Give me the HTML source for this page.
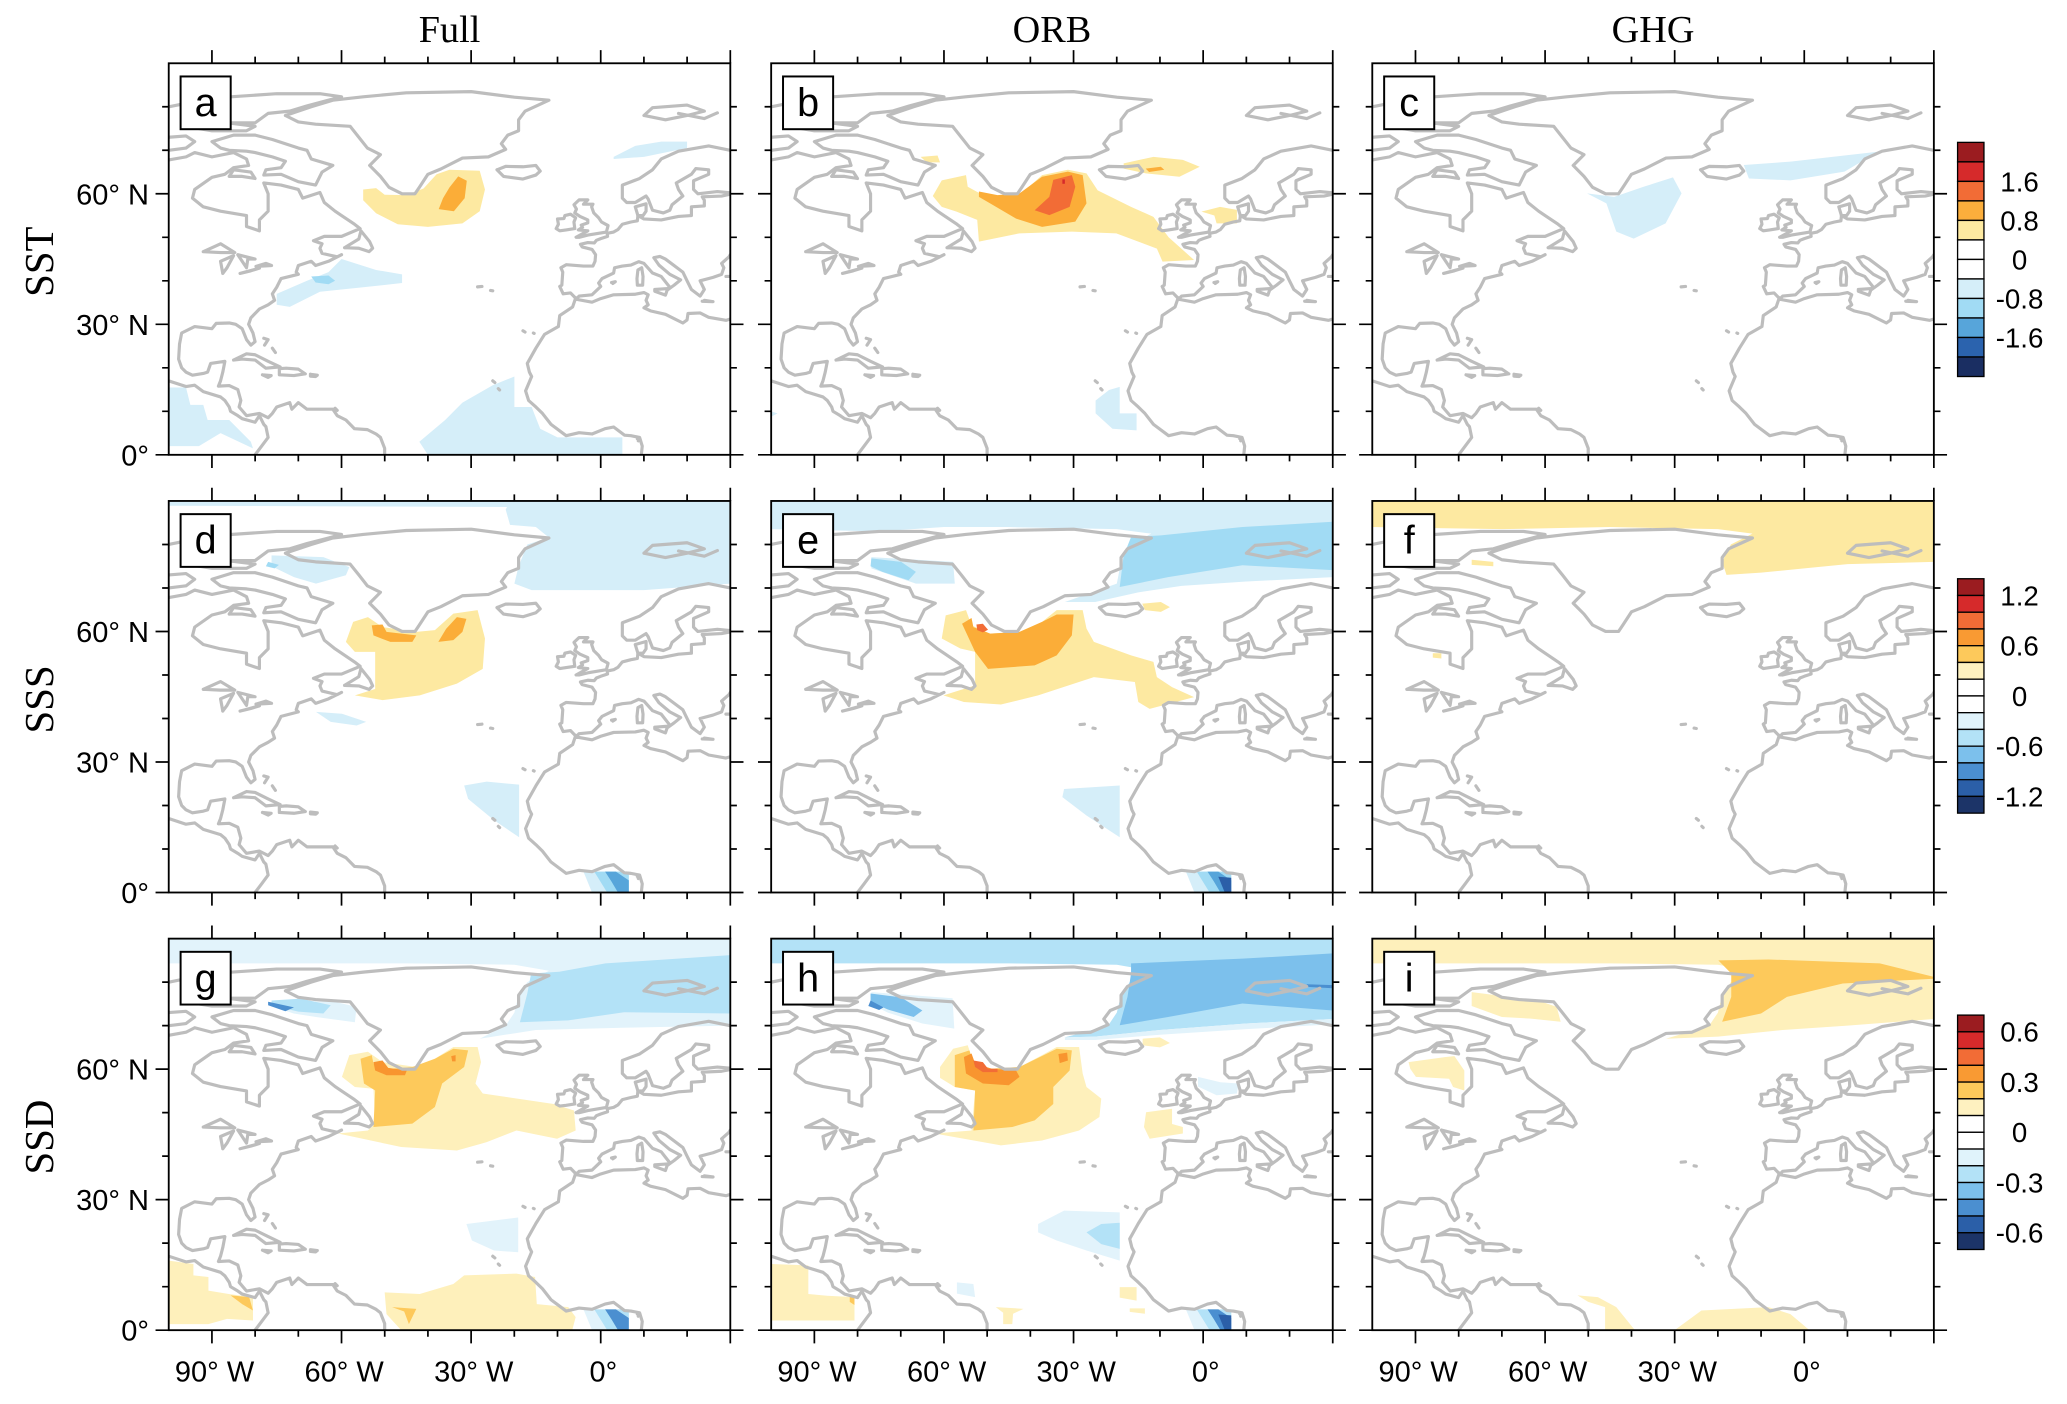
<!DOCTYPE html>
<html><head><meta charset="utf-8"><style>
html,body{margin:0;padding:0;background:#fff}
svg{display:block}
</style></head><body>
<svg id="fig" xmlns="http://www.w3.org/2000/svg" width="2067" height="1404" viewBox="0 0 1568 1065" preserveAspectRatio="none">
<rect x="0" y="0" width="1568" height="1065" fill="#fff"/>
<g id="clips"></g>
<g id="layer"></g>
</svg>
<script>
// ---------- data ----------
const colTitles = ['Full','ORB','GHG'];
const rowTitles = ['SST','SSS','SSD'];
const panelLetters = ['a','b','c','d','e','f','g','h','i'];
const latTicks = [0,30,60];
const latTickLabels = ['0°','30° N','60° N'];
const lonTicks = [-90,-60,-30,0];
const lonTickLabels = ['90° W','60° W','30° W','0°'];
const cb1Colors = ['#9b1c20','#d62a2b','#f26c36','#fbae3c','#feeaa1','#ffffff','#ffffff','#d5eef9','#a1dbf4','#57a5da','#2b63ae','#1a2e62'];
const cb1Labels = ['1.6','0.8','0','-0.8','-1.6'];
const cb2Colors = ['#9b1c20','#d62a2b','#f26c36','#f99a33','#fdc95b','#fef1c0','#ffffff','#ffffff','#e0f3fb','#b3e2f7','#7cc0ec','#4b8fd0','#2b5fa8','#1c3468'];
const cb2Labels = ['1.2','0.6','0','-0.6','-1.2'];
const cb3Labels = ['0.6','0.3','0','-0.3','-0.6'];

const C = {Y:'#fde9a1',O:'#fbad38',R:'#f26c36',D:'#d62a2b',LB:'#d5eef9',MB:'#a1dbf4',B:'#57a5da',NB:'#2b5fa8',
  gY:'#fef0bb',gO:'#fdc95b',gD:'#f8952f',gL:'#e2f3fb',gM:'#b3e2f7',gB:'#7cc0ec',gK:'#4b8fd0'};

const gulfLight=[[-4,4.8],[6.5,4.8],[6.5,0],[-2,0]];
const gulfMid=[[-1.5,4.8],[6.5,4.8],[6.5,0],[1.5,0]];
const gulfBlue=[[1,4.8],[3.5,4.8],[6.5,2.8],[6.5,0],[4,0],[2.5,2.5]];
const gulfNavy=[[3.5,3.6],[6.5,3.4],[6.5,0],[5,0]];

const fillsA = [
 ['Y',[[-55,61],[-52,61.3],[-50,59.8],[-45,59.7],[-41,61.2],[-38,64.5],[-35,65.5],[-28,65.3],[-26.8,61],[-28,56],[-32,53.2],[-40,52.4],[-47,53],[-52,55.5],[-55,58.5]]],
 ['O',[[-33,64],[-31,63],[-31.5,59],[-34,56],[-37.5,56.5],[-36.5,59],[-35,61.5]]],
 ['LB',[[-60,45],[-52,42.5],[-46,41.5],[-46,39.5],[-55,38.5],[-65,37.5],[-72,34],[-75,34.5],[-75,37],[-68,40],[-63,42]]],
 ['MB',[[-67,41],[-63,41.2],[-61.5,40],[-63,39.2],[-66,39.6]]],
 ['LB',[[-100,15.5],[-96,15.5],[-95,11.5],[-92,11.5],[-91,8],[-86,8],[-81,3],[-80.5,1.5],[-88,5],[-93,2],[-100,2]]],
 ['LB',[[-40,0],[-42,3],[-36,8],[-32,12],[-25,16],[-20,18],[-20,11],[-16,11],[-14,6],[-10,4],[-5,4],[5,4],[5,0]]],
 ['LB',[[3,68.5],[8,71],[14,72],[20,72],[20,70.5],[10,68.5],[3,68]]]
];
const fillsB = [
 ['Y',[[-62.6,59.5],[-60.5,63.1],[-54.9,64.3],[-54.5,61.6],[-50.2,59.3],[-42.5,59.7],[-37.3,64.3],[-31.3,65.5],[-27,64.7],[-24.4,60.8],[-16.7,57],[-11.5,54.7],[-8,50],[-2.1,44.8],[-9.4,44.4],[-10.7,47.4],[-20.1,50.9],[-30.4,51.3],[-42.5,50.9],[-51.9,49],[-52.3,54],[-57.1,55.9],[-60.5,57]]],
 ['O',[[-51.9,60.5],[-47.6,59.7],[-42.5,60.1],[-37.3,63.9],[-31.3,65.1],[-27.9,64.3],[-27,57.8],[-29.6,53.6],[-37.3,52.4],[-43.3,54.3],[-49.3,57.8],[-51.9,59.3]]],
 ['R',[[-34.7,63.2],[-30.4,64.3],[-29.6,61.6],[-30.9,57],[-35.6,55.1],[-39,56.2],[-35.6,59.3]]],
 ['D',[[-32.6,63.3],[-32,63.3],[-32,62.3],[-32.6,62.3]]],
 ['Y',[[-18.4,67],[-11.5,68.5],[-4.7,67.8],[-0.8,66.2],[-5.5,63.9],[-13.3,64.7],[-18.4,65.8]]],
 ['O',[[-13.3,65.8],[-9.8,66.2],[-9,65.5],[-12.5,65]]],
 ['Y',[[-65.4,68.5],[-61.5,68.8],[-60.9,67.2],[-64,67.2]]],
 ['Y',[[-0.4,55.9],[3.9,57],[7.8,56.3],[7.8,53.2],[3.1,53.2],[2.6,55]]],
 ['LB',[[-19.3,15.6],[-19.3,9.5],[-15.4,9.5],[-15.4,5.6],[-21,6],[-24.9,9.5],[-24.9,12.5],[-21.8,14.9]]],
 ['LB',[[-100,10],[-98.5,9.5],[-100,8.8]]]
];
const fillsC = [
 ['LB',[[-50.3,60.1],[-44,59.3],[-37.2,61.6],[-30.4,63.8],[-28.4,60.1],[-32.1,53.2],[-39.5,49.7],[-43.5,51.3],[-45.8,57.8]]],
 ['LB',[[-14,66.6],[-3.2,67.4],[17.2,69.7],[9.3,65.1],[-3.2,63.1],[-12.8,63.5]]]
];
const fillsD = [
 ['LB',[[-100,90],[-18,90],[-20,88.6],[-100,88.9]]],
 ['LB',[[-21,90],[30,90],[30,71],[10,69.5],[-16,69.5],[-20,71],[-19,75],[-17,80],[-12,81.6],[-15,84],[-21,84.5],[-22,88]]],
 ['LB',[[-76.2,77.5],[-64.2,77.1],[-58.2,74.8],[-59,72.9],[-65.9,71],[-71,72.5],[-76.2,75]]],
 ['MB',[[-77,76],[-74.5,75.3],[-75.5,74.5],[-77.5,75]]],
 ['Y',[[-59,57.6],[-57.3,62.2],[-53.9,63.3],[-50.5,61],[-42.7,59.9],[-38.4,60.3],[-34.1,64.1],[-28.5,64.9],[-26.8,58.4],[-27.3,51.4],[-33.3,48],[-41.9,45.3],[-50.5,44.2],[-56.9,45.3],[-52.2,46.8],[-52.2,55.3],[-56.9,55.3]]],
 ['O',[[-53,61.4],[-50.5,61.6],[-49.6,59.9],[-42.7,59.1],[-43.6,57.6],[-48.7,57.6],[-52.6,59.1]]],
 ['O',[[-37.6,57.6],[-35.8,60.6],[-33.3,63.3],[-31.1,62.9],[-32,59.9],[-34.1,58]]],
 ['LB',[[-65.9,41.5],[-59.9,41.1],[-54.3,39.2],[-56.5,38.4],[-62.5,39.2]]],
 ['LB',[[-31.6,24.6],[-26.4,25.5],[-18.9,24.8],[-18.9,12.7],[-24.7,16.6],[-30.7,21.5]]],
 ['LB',gulfLight],['MB',gulfMid],['B',gulfBlue]
];
const fillsE = [
 ['LB',[[-100,90],[30,90],[30,72.5],[10,71.5],[-5,70.5],[-15,69],[-25,66.8],[-32,66.8],[-27,68.5],[-20,71],[-19,76],[-17,80],[-12,82.5],[-20,83.5],[-45,84],[-60,84],[-75,83],[-100,83.5]]],
 ['MB',[[-9.8,82.1],[9.1,84],[30,85.2],[30,74.1],[9.1,75.2],[-8.1,72.5],[-19.3,70.2],[-18.4,77.5],[-16.7,81.7]]],
 ['LB',[[-76.8,77.1],[-57.9,76],[-57.5,71],[-66.5,71],[-76.8,74.5]]],
 ['MB',[[-76.8,76.8],[-69.9,76],[-66.5,73.7],[-68.2,71.8],[-74.2,73.7],[-77,75]]],
 ['Y',[[-60.5,58.4],[-59.6,63.7],[-54.9,64.9],[-53.6,61.4],[-49.3,59.5],[-42.5,59.9],[-37.3,62.2],[-33.9,64.9],[-27.9,64.9],[-27,60.7],[-25.3,57.6],[-16.7,54.5],[-11.5,53],[-10.7,49.5],[-7.2,47.2],[-2.1,44.9],[-12.4,42.2],[-15,43.8],[-15.8,48.4],[-25.3,49.5],[-38.2,45.3],[-46.8,43.2],[-55.4,43.8],[-60.1,45.3],[-52.8,47.6],[-52.8,55.3],[-56.2,56.1]]],
 ['O',[[-55.8,61.8],[-53.6,63.1],[-53.2,61],[-49.3,59.5],[-42.5,59.9],[-37.3,62.2],[-33.9,63.9],[-30,63.9],[-30.4,59.1],[-33.9,54.5],[-39,52.2],[-49.8,51.4],[-52.8,55.3]]],
 ['R',[[-52.5,61.6],[-51,61.8],[-49.8,60.4],[-51,59.8],[-52.3,60.3]]],
 ['Y',[[-14.1,66.4],[-9.8,66.8],[-7.7,65.6],[-9.8,64.5],[-13.5,64.9]]],
 ['LB',[[-32.2,23.8],[-19.3,24.6],[-19.3,12.7],[-27,17.7],[-32.6,21.9]]],
 ['LB',gulfLight],['MB',gulfMid],['B',gulfBlue],['NB',gulfNavy]
];
const fillsF = [
 ['Y',[[-100,90],[30,90],[30,76],[10,75.5],[0,74.5],[-10,73.5],[-18,73],[-19,76],[-17,80],[-12,82.5],[-20,83.5],[-45,84],[-70,83.5],[-100,84]]],
 ['Y',[[-77,76.5],[-72,76],[-72,75],[-77,75.3]]],
 ['Y',[[-86,55],[-84,55],[-84,53.8],[-86,54]]]
];
const fillsG = [
 ['gL',[[-100,90],[30,90],[30,70],[5,69.5],[-15,69],[-28,67],[-22,70],[-20,73],[-19,77],[-17,80],[-12,82.6],[-20,84],[-45,84.3],[-60,84.3],[-100,84.3]]],
 ['gM',[[-9.6,82.4],[1.1,84.3],[30,86.2],[30,72.8],[5.4,73.1],[-7.5,71.2],[-18.7,70.8],[-17,77.4],[-16.1,82]]],
 ['gL',[[-76.2,75.8],[-61.6,75.5],[-56.5,74.3],[-56.9,70.8],[-65.9,72],[-71.1,72.8],[-76.2,74.5]]],
 ['gM',[[-76.2,75.8],[-69.4,76.2],[-62.5,74.7],[-64.2,72.8],[-70,73.2],[-76.2,74.7]]],
 ['gK',[[-77,75.5],[-71,74.2],[-73,73.3],[-77,74.7]]],
 ['gY',[[-59.9,58.2],[-58.2,63.2],[-53.9,64],[-50.5,61.6],[-42.7,60.5],[-38.4,62.4],[-34.1,65.1],[-28.5,65.1],[-27.7,61.6],[-29,56.7],[-27.3,54.4],[-10.9,52],[-6.2,50.5],[-5.8,45.9],[-10.1,44],[-19.5,45.9],[-26.4,43.2],[-33.3,41.3],[-46.2,42.1],[-60.8,45.2],[-53.9,45.9],[-52.2,47.5],[-52.6,55.5],[-56.9,55.9]]],
 ['gO',[[-55.6,62.4],[-53,63.2],[-52.6,61.3],[-48.7,60.1],[-43.6,60.5],[-38.4,62.4],[-34.1,64.7],[-30.7,64.3],[-31.6,60.5],[-36.7,56.7],[-38.4,51.3],[-43.6,47.5],[-52.6,46.7],[-52.2,55.1],[-54.8,56.7]]],
 ['gD',[[-52.6,61.6],[-50.5,62],[-49.2,60.3],[-44.9,59.7],[-45.3,58.6],[-49.6,58.6],[-52.2,59.7]]],
 ['gD',[[-34.6,63],[-33.6,63.2],[-33.6,61.8],[-34.4,61.8]]],
 ['gL',[[-31.1,24.4],[-19.1,25.9],[-19.1,17.9],[-24.7,18.3],[-29.8,20.6]]],
 ['gY',[[-100,16],[-94.3,15.2],[-94.3,12.6],[-90.8,12.2],[-90.8,9.1],[-86.1,8.3],[-80.5,7.6],[-80.5,2.2],[-86.5,2.6],[-90.8,1.4],[-100,1.4]]],
 ['gO',[[-85.7,8],[-81.4,7.6],[-80.5,4.5],[-83,6]]],
 ['gY',[[-50,8.7],[-41.9,8.3],[-34.1,10.6],[-31.6,12.6],[-19.5,13],[-15.2,12.2],[-14.8,6],[-7.5,5.3],[-5.8,3],[-6.6,0],[-46.2,0],[-49.6,3.7]]],
 ['gO',[[-48.3,5.3],[-42.7,4.9],[-44.4,1.4],[-45.5,4.3]]],
 ['gL',gulfLight],['gM',gulfMid],['gK',gulfBlue]
];
const fillsH = [
 ['gM',[[-100,90],[30,90],[30,71.5],[10,70.5],[-10,69],[-25,67.5],[-32,67.3],[-22,70],[-20,73],[-19,77],[-17,80],[-12,82.6],[-20,84],[-45,84.3],[-100,84.3]]],
 ['gL',[[-32,67.3],[-25,67.5],[-10,69],[10,70.5],[30,71.5],[30,70.3],[10,69.2],[-10,67.9],[-25,66.7],[-32,66.7]]],
 ['gB',[[-16.7,84.3],[9.1,85.4],[30,86.6],[30,73.5],[9.1,75.1],[-8.1,72],[-19.3,70.1],[-17.5,76.6],[-16.7,82]]],
 ['gK',[[24,79.5],[30,79.3],[30,78.6],[24,78.9]]],
 ['gL',[[-76.8,77.7],[-58,76.3],[-57.6,69.3],[-65,70.5],[-73,73],[-77,75]]],
 ['gB',[[-77,77.4],[-70,76.5],[-65,73.5],[-67,72],[-73,73.7],[-77,75.5]]],
 ['gK',[[-77,75.8],[-74,74.2],[-75,73.6],[-77.5,74.5]]],
 ['gY',[[-60.9,60.5],[-57.9,64.7],[-54.5,65.5],[-53.2,61.6],[-49.3,60.1],[-42.5,60.5],[-37.3,63.2],[-33.9,65.1],[-28.7,65.1],[-27.9,59],[-27,55.9],[-23.6,53.2],[-24,49],[-28.7,45.9],[-37.3,43.6],[-46.8,42.5],[-62.2,45.2],[-53.6,45.9],[-52.8,55.1],[-57.5,55.9],[-60.9,58]]],
 ['gO',[[-57.5,63.2],[-54.1,64.3],[-53.2,61.3],[-49.3,60.1],[-42.5,60.5],[-36.9,63.2],[-33.9,64.7],[-30.4,64.3],[-30.9,59.7],[-34.7,55.9],[-34.7,52],[-39,48.2],[-44.2,46.7],[-53.2,45.9],[-52.8,55.1],[-57.5,55.9]]],
 ['gD',[[-55.4,62.8],[-53.6,63.6],[-52.8,61.3],[-48.9,60.1],[-43.3,59.7],[-42.5,58.2],[-45,56.3],[-51,56.7],[-54.9,59]]],
 ['gD',[[-33.5,63.5],[-31.5,63.8],[-31.3,62],[-33.2,61.4]]],
 ['R',[[-53.2,62],[-51,61.6],[-49.8,60.1],[-47.6,60.1],[-47.6,59.3],[-51,59.3],[-52.8,60.5]]],
 ['gY',[[-14,67],[-10,67.3],[-7.7,66],[-10,65],[-14,65.5]]],
 ['gL',[[-1.2,58.2],[4,57],[8.2,56.7],[7.8,54.4],[3.1,54],[-1.2,56]]],
 ['gY',[[-13.2,50.1],[-7.2,50.9],[-7.2,47.4],[-4.7,46.7],[-4.7,45.2],[-12.4,44],[-13.7,46.7]]],
 ['gL',[[-38.2,24.4],[-32.2,27.5],[-19.3,27.1],[-19.3,16],[-27,18.3],[-33.9,20.6],[-38.2,22.5]]],
 ['gM',[[-27,22.5],[-23.6,24.4],[-19.3,24.7],[-19.3,18.7],[-23.6,19.8]]],
 ['gY',[[-100,15.2],[-91.4,14.9],[-91.4,8.3],[-87.1,7.9],[-80.7,7.6],[-80.7,2.2],[-100,2.2]]],
 ['gO',[[-81.8,8],[-80.7,8],[-80.7,5.8],[-81.8,6.5]]],
 ['gL',[[-57,11],[-53.2,10.6],[-52.8,7.6],[-57,8.4]]],
 ['gY',[[-48,5.3],[-41.6,4.9],[-44,3.8],[-44.2,1.4],[-46.3,1.4],[-46.3,4]]],
 ['gY',[[-19.3,9.9],[-15.4,9.9],[-15.4,6.8],[-19.3,7.5]]],
 ['gY',[[-17,5],[-13.5,5],[-13.5,3.8],[-17,4.2]]],
 ['gL',gulfLight],['gM',gulfMid],['gK',gulfBlue],['NB',gulfNavy]
];
const fillsI = [
 ['gY',[[-100,90],[30,90],[30,71.5],[10,70],[-5,69],[-20,67.5],[-32,67],[-22,70],[-20,73],[-19,77],[-17,80],[-12,82.6],[-20,84],[-45,84.3],[-100,84.3]]],
 ['gO',[[-19.9,85],[-8.3,85.2],[17.5,84.3],[30,81.2],[30,80.8],[8.9,79.7],[-4,76.6],[-10,72.8],[-19,70.9],[-16.9,76.6],[-16.9,82]]],
 ['gY',[[-77,77.7],[-61.6,75.8],[-57.3,74.3],[-56.4,70.9],[-63.3,71.6],[-70,72],[-77,74.5]]],
 ['gY',[[-91.6,61.6],[-83,62.8],[-81,63],[-78.7,59.7],[-78.7,55.1],[-81.3,55.9],[-82.2,57.8],[-89.9,58.2],[-91.2,60.1]]],
 ['gY',[[-52.5,8],[-47.8,7.6],[-43.5,5.3],[-39.2,0],[-46.1,0],[-46.1,5.3],[-50,6.5]]],
 ['gY',[[-30,0],[-23.8,4.5],[-8.3,5.3],[-3.2,3.7],[1.2,0]]]
];
const panelFills = [fillsA,fillsB,fillsC,fillsD,fillsE,fillsF,fillsG,fillsH,fillsI];

const coasts = [
 [[-73,78],[-70,76.5],[-66,76],[-58,75.5],[-56,73],[-54,70.5],[-51,69],[-53.5,66.5],[-51,64],[-49,61.5],[-46,60],[-43,60],[-42,61.5],[-40,64.5],[-37,65.7],[-32,68.2],[-26,68.5],[-22,70.2],[-23,71.5],[-21.5,73.5],[-19,74.5],[-19,77],[-17.5,79],[-12,81.5],[-20,82.2],[-30,83.5],[-45,83.2],[-55,82.3],[-62,81.5],[-67,80],[-73,78]],
 [[-95,77],[-90,76.3],[-80,76.3],[-77,78.5],[-72,79],[-68,80.2],[-63,81.5],[-60,82.3],[-65,83],[-75,83],[-90,82],[-95,81],[-100,80]],
 [[-96,75.5],[-90,74.5],[-82,74.5],[-80,75.5],[-88,76.5],[-94,76.3]],
 [[-100,73],[-96,73.3],[-94,72],[-96,70.5],[-100,70]],
 [[-80,73.5],[-76,72.5],[-70,70.5],[-68,70],[-67,68],[-62,66.5],[-64.5,65],[-66,62],[-70,62.8],[-74,64.5],[-78,64.3],[-77.5,65.5],[-74,66],[-73,67.5],[-76,68.5],[-80,69.5],[-82,69.8],[-86,70],[-88,70.5],[-90,72],[-85,73.5],[-80,73.5]],
 [[-86,64],[-83,64],[-80,63.5],[-81,65],[-85,65.5],[-86,64]],
 [[-100,67.8],[-96,68.5],[-94,69.5],[-90,68.5],[-85,69.5],[-82,68],[-81.5,66.5],[-85,66],[-87,64.5],[-90,63.8],[-94,61],[-94.5,59],[-92,57],[-88,56],[-82,55],[-82,52.5],[-79,51.5],[-79,54],[-77,56],[-77,60],[-78,62.5],[-74,62],[-70,61],[-69,59],[-65,60.3],[-64,58],[-61.5,56],[-60,55],[-57,53],[-55.7,52],[-60,50.2],[-64,50.2],[-66.5,49.2],[-64.5,48.5],[-65,47.5],[-64.5,46.3],[-61,45.5],[-60,46],[-63,44.5],[-66,43.5],[-67,44.5],[-70,43.5],[-70.5,42],[-70,41.5],[-74,40.5],[-75,38.5],[-76,37],[-75.5,35.5],[-77,34.5],[-79,33.5],[-81,31.5],[-81.5,30],[-80.5,28],[-80,26],[-81,25.2],[-82,26.5],[-83,29],[-84.5,30],[-86,30.3],[-89,30.2],[-90,29],[-94,29.5],[-97,28],[-97.5,25.5],[-97.7,22],[-97,20],[-96,19],[-94.5,18.3],[-92,18.7],[-91,19],[-90.3,21],[-87,21.5],[-87.5,19],[-88,17],[-88.5,15.8],[-86,15.9],[-84,15],[-83.3,12.5],[-83.7,11],[-82,9],[-79,9.5],[-77,8.5],[-76,9.5],[-75,11],[-72,12],[-71.5,10.5],[-70,12],[-68,10.5],[-64,10.5],[-62,10.5],[-61,9],[-59,8],[-57,6],[-54,5.8],[-52,4.8],[-51,4],[-50,1.5],[-50,0]],
 [[-100,17],[-96,15.7],[-94,16],[-92,14.5],[-88,13.3],[-87,12.5],[-86,11],[-85.7,10],[-84,9],[-83,8.3],[-80,7.5],[-79,9],[-78,7],[-77.5,6.5],[-77,4],[-78.5,2],[-80,0]],
 [[-59.3,47.6],[-56,49.6],[-55.5,51.5],[-53.5,49],[-52.8,47.5],[-53.6,46.7],[-56,47.5],[-59.3,47.6]],
 [[-92,46.7],[-88,48.5],[-84.7,46.5],[-88,46.5],[-92,46.7]],
 [[-87.5,41.7],[-88,44.5],[-85,45.8],[-86.5,43],[-87.5,41.7]],
 [[-84,46],[-82,43],[-81.7,45],[-80,45],[-84,46]],
 [[-83.5,41.7],[-79,42.9],[-81,42.3],[-83.5,41.7]],
 [[-79.8,43.3],[-76.2,43.5],[-77.5,44],[-79.8,43.3]],
 [[-85,21.8],[-82,23.2],[-80,23],[-77,21.5],[-74.2,20.2],[-77.5,19.9],[-80,21.8],[-83,22],[-85,21.8]],
 [[-74.4,19.8],[-72.8,19.9],[-70,19.7],[-68.4,18.6],[-71,18.2],[-74.4,18.4],[-74.4,19.8]],
 [[-78.3,18.4],[-76.3,18.2],[-77,17.8],[-78.3,18.4]],
 [[-67.2,18.5],[-65.6,18.3],[-66,18],[-67.2,18.1],[-67.2,18.5]],
 [[-78,26.8],[-77,26.5],[-77.8,25.2]],[[-76,24.5],[-75.3,23.5]],
 [[-61.5,10.7],[-61,10.2]],
 [[-24,65.5],[-22,66.3],[-18,66.2],[-15,66.5],[-14,65.2],[-15,64.3],[-18,63.4],[-21,63.8],[-22.5,64],[-24,65.5]],
 [[10,78],[15,77],[20,78],[24,79],[20,80.4],[12,79.8],[10,78]],
 [[18,78.5],[24,77.3],[27,78.6]],
 [[30,70],[25,71],[18,69.8],[14,68],[12,65.5],[9,63.5],[5,62],[5,59],[6,58],[8,58],[10.5,59.5],[11,58.8],[12,56.2],[14.5,55.6],[16,56.2],[16.5,57.5],[19,59.5],[18,61],[17.5,62.5],[21,64.5],[22,65.8],[25,65.5],[25,64.5],[21.5,63],[21.5,61],[22.5,60],[27,60.5],[30,60.2]],
 [[8,57],[10.5,57.7],[10.5,56],[9.8,55],[8.6,55],[8,57]],
 [[30,59.9],[28,59.5],[23.5,59.3],[24,58.5],[24,57.2],[21,57],[21,55],[18,54.8],[14,54],[10,54.2],[9,54.8],[8.6,55],[8.5,53.8],[7,53.5],[5,53],[4,51.8],[3,51.2],[1.5,50.9],[1.6,50.2],[0,49.7],[-1,49.3],[-1.5,48.7],[-3,48.8],[-4.7,48.4],[-4.3,47.8],[-2,47.2],[-1.2,46],[-1.3,44.5],[-1.8,43.4],[-4,43.4],[-8,43.7],[-9.2,43],[-8.8,42],[-9,39],[-9.5,38.7],[-8.7,37],[-7,37.2],[-6,36.2],[-5.5,36],[-5,36.5],[-2,36.8],[0,38.7],[-0.5,39.5],[0.3,40.5],[3,41.8],[3.2,43],[5,43.4],[7,43.6],[8.8,44.4],[10,44],[12,41.8],[14,41],[16,38.5],[15.6,38],[17,39],[18.5,40.2],[16,41.5],[13.5,43.6],[12.3,45.3],[13.7,45.6],[15,45],[19,42],[20,40],[21,38],[23,36.5],[24,38],[23,40],[26,40.8],[28,41.5],[28.5,43],[28,44],[29.7,45.5],[30,46]],
 [[30,41],[29,41]],
 [[8.5,39],[9.7,39],[9.8,41],[9.5,43],[8.6,42.5],[8.4,40.5],[8.5,39]],
 [[12.5,38],[15.5,38.2],[15,36.7],[12.5,37.6],[12.5,38]],
 [[23.5,35.3],[26,35.2],[24,35.5]],
 [[2.5,39.6],[3.4,39.8],[2.8,39.4]],
 [[-5,50],[-3,50.5],[1.3,51.2],[1.7,52.7],[0.2,53.5],[-0.5,54.5],[-1.6,55.6],[-2.1,57],[-1.8,57.6],[-4,57.6],[-3,58.6],[-5,58.6],[-6.2,57.5],[-5.6,56.5],[-6,55.6],[-4.8,54.8],[-3,54],[-3,53.3],[-4.5,52.8],[-4.2,52.3],[-5.2,51.7],[-3,51.5],[-5.7,50],[-5,50]],
 [[-6,52],[-6.2,53.5],[-5.8,54.5],[-7,55.3],[-8.3,55],[-8.5,54.3],[-10,54.2],[-9.8,53],[-10.3,52],[-9.5,51.5],[-8,51.7],[-6,52]],
 [[30,31.2],[29,30.9],[25,31.6],[23,32.6],[20.2,32.5],[20,31],[19,30.3],[15,32.3],[11.5,33.1],[10,33.8],[11,34.5],[10.5,35.5],[11,36.8],[10,37.3],[8,36.9],[3,36.8],[0,35.9],[-2,35.1],[-5.9,35.8],[-6.5,34],[-9.5,32],[-9.8,29.5],[-13,27.7],[-15,24.5],[-17,21],[-16.5,19],[-16,18],[-17.4,14.7],[-16.7,12.5],[-15,11],[-13.5,9.5],[-11.5,7],[-8,4.4],[-5,5.1],[-2,4.8],[1,6],[3,6.4],[5.5,4.5],[7,4.4],[9,4],[9.6,2],[9.4,0]],
 [[-28.5,38.6],[-27.5,38.7]],[[-25.5,37.8],[-25,37.7]],
 [[-18,28.5],[-17.5,28.2]],[[-15.6,28],[-15.4,27.9]],
 [[-25,17],[-24.5,16.6]],[[-23.7,15.2],[-23.4,14.9]],
 [[8.5,3.7],[8.9,3.5],[8.7,3.2]]
];

// ---------- layout ----------
const X0=[128,585,1041], Y0=[48,380,712], PW=426, PH=297;
const NS='http://www.w3.org/2000/svg';
const layer=document.getElementById('layer');
const clips=document.getElementById('clips');
function px(c,lon){return X0[c]+(lon+100)*PW/130;}
function py(r,lat){return Y0[r]+(90-lat)*PH/90;}
function mk(tag,attrs,parent){const e=document.createElementNS(NS,tag);for(const k in attrs)e.setAttribute(k,attrs[k]);(parent||layer).appendChild(e);return e;}
function pts(c,r,arr){return arr.map(p=>px(c,p[0]).toFixed(1)+','+py(r,p[1]).toFixed(1)).join(' ');}

for(let r=0;r<3;r++){
 for(let c=0;c<3;c++){
  const idx=r*3+c;
  const cp=mk('clipPath',{id:'cp'+idx},clips);
  mk('rect',{x:X0[c],y:Y0[r],width:PW,height:PH},cp);
  const g=mk('g',{'clip-path':'url(#cp'+idx+')'});
  
  
  panelFills[idx].forEach(f=>{
    const poly=mk('polygon',{points:pts(c,r,f[1]),fill:C[f[0]]},g);
    
    
  });
  coasts.forEach(line=>{
    const pl=mk('polyline',{points:pts(c,r,line),fill:'none',stroke:'#bdbdbd','stroke-width':2.4,'stroke-linejoin':'round','stroke-linecap':'round'},g);
    
    
  });
  const fr=mk('rect',{x:X0[c],y:Y0[r],width:PW,height:PH,fill:'none',stroke:'#000','stroke-width':1.4});
  
  
  let d='';
  for(let lon=-90;lon<=30;lon+=10){
    const x=px(c,lon), L=(lon%30===0)?10:5;
    d+=`M${x},${Y0[r]}v${-L}M${x},${Y0[r]+PH}v${L}`;
  }
  for(let lat=10;lat<=80;lat+=10){
    const y=py(r,lat), L=(lat%30===0)?10:5;
    d+=`M${X0[c]},${y}h${-L}M${X0[c]+PW},${y}h${L}`;
  }
  d+=`M${X0[c]},${Y0[r]+PH}h-10M${X0[c]+PW},${Y0[r]+PH}h10`;
  const tk=mk('path',{d:d,stroke:'#000','stroke-width':1.3,fill:'none'});
  
  
  const lb=mk('rect',{x:X0[c]+9,y:Y0[r]+10,width:38,height:40,fill:'#fff',stroke:'#000','stroke-width':1.5});
  
  
  const lt=mk('text',{x:X0[c]+28,y:Y0[r]+40,'text-anchor':'middle','font-family':'Liberation Sans, sans-serif','font-size':30,fill:'#000'});
  lt.textContent=panelLetters[idx];
  
  
 }
}
colTitles.forEach((t,c)=>{
  const e=mk('text',{x:X0[c]+PW/2,y:32,'text-anchor':'middle','font-family':'Liberation Serif, serif','font-size':29,fill:'#000'});
  e.textContent=t;
  
  
});
rowTitles.forEach((t,r)=>{
  const cy=Y0[r]+PH/2+2;
  const e=mk('text',{x:30,y:cy,transform:`rotate(-90 30 ${cy})`,'text-anchor':'middle','dominant-baseline':'central','font-family':'Liberation Serif, serif','font-size':31,fill:'#000'});
  e.textContent=t;
  
  
  latTicks.forEach((lat,i)=>{
    const l=mk('text',{x:113,y:py(r,lat)+8,'text-anchor':'end','font-family':'Liberation Sans, sans-serif','font-size':22,fill:'#000'});
    l.textContent=latTickLabels[i];
    
    
  });
});
for(let c=0;c<3;c++){
  lonTicks.forEach((lon,i)=>{
    const l=mk('text',{x:px(c,lon)+2,y:1048,'text-anchor':'middle','font-family':'Liberation Sans, sans-serif','font-size':22,fill:'#000'});
    l.textContent=lonTickLabels[i];
    
    
  });
}
function colorbar(top,colors,bh,labels,labelStart,step,name){
  const g=mk('g',{});
  
  
  colors.forEach((col,i)=>{
    const b=mk('rect',{x:1485,y:top+i*bh,width:20,height:bh,fill:col,stroke:'#000','stroke-width':1},g);
    
    
  });
  labels.forEach((t,i)=>{
    const y=top+(labelStart+i*step)*bh;
    const l=mk('text',{x:1532,y:y+7.5,'text-anchor':'middle','font-family':'Liberation Sans, sans-serif','font-size':21,fill:'#000'},g);
    l.textContent=t;
    
    
  });
}
colorbar(108,cb1Colors,14.8,cb1Labels,2,2,'sst-colorbar');
colorbar(439,cb2Colors,12.7,cb2Labels,1,3,'sss-colorbar');
colorbar(770,cb2Colors,12.7,cb3Labels,1,3,'ssd-colorbar');
</script>
</body></html>
